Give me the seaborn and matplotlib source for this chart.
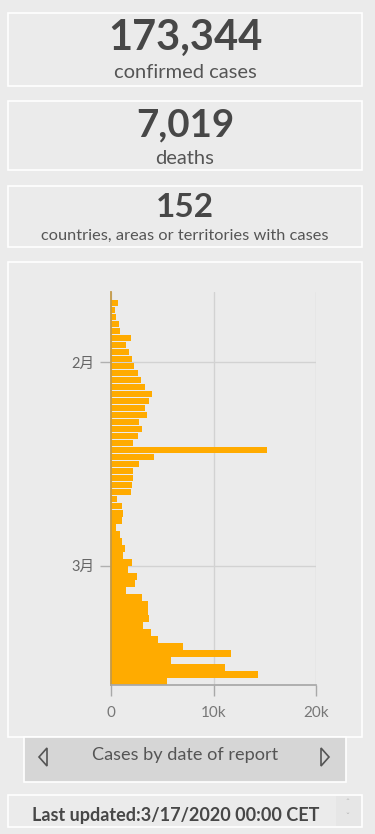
#!/usr/bin/env python3
"""
Dashboard panel: global totals plus new cases by date of report (horizontal bars).
"""

import matplotlib

matplotlib.use("Agg")
import matplotlib.pyplot as plt
import pandas as pd
import seaborn as sns
from matplotlib.patches import Rectangle, Polygon

# ---- data -----------------------------------------------------------------
totals = ["173,344", "7,019", "152"]
total_labels = ["confirmed cases", "deaths", "countries, areas or territories with cases"]

report_dates = pd.date_range("2020-01-23", "2020-03-17", freq="D").strftime("%Y-%m-%d").tolist()
daily_cases = [
    650, 390, 490, 750, 910, 1920, 1500, 1760, 2050, 2210,
    2600, 2900, 3320, 4030, 3740, 3320, 3480, 2760, 3060, 2600,
    2180, 15190, 4160, 2760, 2180, 2180, 2080, 1920, 620, 1040,
    1200, 1070, 460, 910, 1040, 1330, 1200, 2050, 1660, 2500,
    2340, 1460, 3060, 3580, 3580, 3740, 3160, 3900, 4620, 6990,
    11680, 5850, 11120, 14370, 5430,
]
month_ticks = ["2020-02-01", "2020-03-01"]
month_labels = ["2月", "3月"]
x_ticks = [0, 10000, 20000]
x_tick_labels = ["0", "10k", "20k"]
footer = "Last updated:3/17/2020 00:00 CET"
button_text = "Cases by date of report"

BG = "#ebebeb"
TXT = "#474747"
BAR = "#ffab00"

sns.set_theme(style="white")
plt.rcParams["font.family"] = ["Lato", "Noto Sans CJK SC", "DejaVu Sans"]

W, H = 375, 834
fig = plt.figure(figsize=(W / 100, H / 100), dpi=100, facecolor=BG)

# background layer in pixel coordinates
bg = fig.add_axes([0, 0, 1, 1])
bg.set_xlim(0, W)
bg.set_ylim(H, 0)
bg.axis("off")


def box(x0, y0, x1, y1, fc=BG):
    bg.add_patch(Rectangle((x0, y0), x1 - x0, y1 - y0, facecolor=fc,
                           edgecolor="white", linewidth=1.2))


box(8, 13, 362, 86)
box(8, 101, 362, 170)
box(8, 186, 362, 247)
box(8, 262, 362, 737)
box(24, 737, 346, 782, fc="#d6d6d6")
box(8, 795, 362, 827)
bg.add_patch(Rectangle((336, 796), 25, 30, facecolor="#e6e6e6", edgecolor="none"))

# headline numbers
num_pos = [(38, 30), (125, 27.7), (207, 24)]
lab_pos = [(72, 14.5), (158, 14.5), (236, 11.8)]
for value, label, (ny, ns), (ly, ls) in zip(totals, total_labels, num_pos, lab_pos):
    bg.text(185, ny, value, ha="center", va="center", fontsize=ns,
            fontweight="bold", color=TXT)
    bg.text(185, ly, label, ha="center", va="center", fontsize=ls, color="#555555")

# button bar
bg.text(185, 755, button_text, ha="center", va="center", fontsize=13.1, color="#555555")
bg.add_patch(Polygon([(47, 748), (47, 766), (39, 757)], closed=True, fill=False,
                     edgecolor="#555555", linewidth=1.2))
bg.add_patch(Polygon([(321, 748), (321, 766), (329, 757)], closed=True, fill=False,
                     edgecolor="#555555", linewidth=1.2))

# footer
bg.text(176, 816, footer, ha="center", va="center", fontsize=13,
        fontweight="bold", color=TXT)
bg.text(347, 804, "ˆ", ha="center", va="center", fontsize=7, color="#bbbbbb")
bg.text(347, 818, "ˇ", ha="center", va="center", fontsize=7, color="#bbbbbb")

# ---- bar chart ------------------------------------------------------------
df = pd.DataFrame({"date": report_dates, "cases": daily_cases})
ax = fig.add_axes([111 / W, 1 - 685 / H, 205 / W, 393 / H])
ax.set_facecolor("none")
sns.barplot(data=df, x="cases", y="date", orient="h", color=BAR, saturation=1,
            width=0.94, linewidth=0, order=report_dates, ax=ax)

tick_pos = [report_dates.index(d) - 0.5 for d in month_ticks]
ax.set_ylim(len(report_dates) - 0.5, -1.55)
ax.set_xlim(0, 20000)
ax.set_yticks(tick_pos)
ax.set_yticklabels(month_labels)
ax.set_xticks(x_ticks)
ax.set_xticklabels(x_tick_labels)
ax.set_xlabel("")
ax.set_ylabel("")
ax.set_axisbelow(True)
ax.grid(True, color="#d2d2d2", linewidth=1)

for side in ["top", "right"]:
    ax.spines[side].set_visible(False)
ax.spines["left"].set_color("#c49a48")
ax.spines["left"].set_linewidth(1.3)
ax.spines["bottom"].set_color("#a8a8a8")
ax.tick_params(axis="x", length=8, width=1, color="#a8a8a8", colors="#777777",
               labelsize=11, pad=7)
ax.tick_params(axis="y", length=8, width=1, color="#b0b0b0", colors="#666666",
               labelsize=10.5, pad=4)
ax.tick_params(axis="x", bottom=True)
ax.tick_params(axis="y", left=True)

fig.savefig("out.png", dpi=100, facecolor=BG)
